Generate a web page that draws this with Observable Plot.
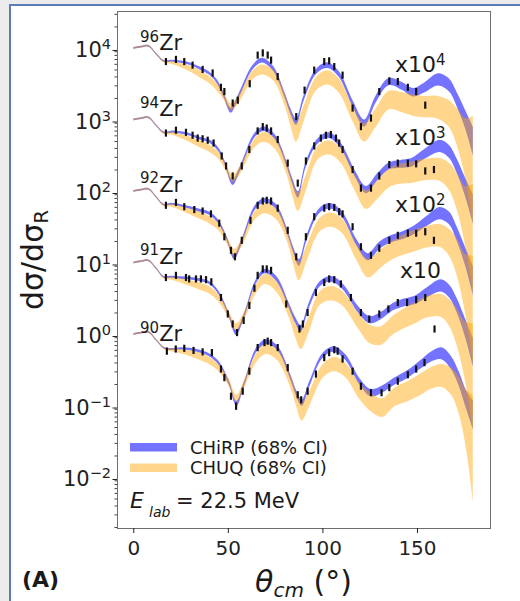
<!DOCTYPE html>
<html><head><meta charset="utf-8">
<script src="https://cdn.jsdelivr.net/npm/d3@7"></script>
<script src="https://cdn.jsdelivr.net/npm/@observablehq/plot@0.6"></script>
<style>
html,body{margin:0;padding:0;background:#ebebeb;width:520px;height:601px;overflow:hidden;font-family:"DejaVu Sans",sans-serif;}
#frame{position:absolute;left:9px;top:4px;width:620px;height:700px;background:#fff;border-left:2px solid #5a7cb8;border-top:2px solid #5a7cb8;}
#chart{position:absolute;left:0;top:0;}
</style></head><body><div id="frame"></div><div id="chart"></div>
<script>
// ---------------- data ----------------
const nuclei = ["90Zr", "91Zr", "92Zr", "94Zr", "96Zr"];
const offsets = [1, 10, 100, 1000, 10000];
const nucleusMass = ["90", "91", "92", "94", "96"];
const nucleusLabelShift = [-0.10, -0.02, -0.01, 0.046, -0.03];   // log10 offset of label baseline
const nucleusLabelTheta = 3.6;
const scaleBase = ["x10", "x10", "x10", "x10"];                    // for 91, 92, 94, 96
const scaleExp = ["", "2", "3", "4"];
const scaleLabelOffsets = [10, 100, 1000, 10000];
const scaleLabelTheta = [141, 138.4, 138.4, 138.4];
const scaleLabelShift = [-0.21, -0.294, -0.35, -0.336];

const xTicks = [0, 50, 100, 150];
const yTickValues = [1e-2, 1e-1, 1, 1e1, 1e2, 1e3, 1e4];
const yTickExp = ["−2", "−1", "0", "1", "2", "3", "4"];

// band knots (theta in degrees) per nucleus, log10(dσ/dσR) band centres
const theta90 = [0,4,8,12,16,20,25,30,35,40,45,50.5,54.5,58.5,65,70,76,83,86,89,93,100,106,112,119.5,125.5,131.5,138,145,152,157,163,168,172,176,179.5];
const blue90  = [0,0.02,0.03,-0.08,-0.19,-0.21,-0.20,-0.21,-0.24,-0.29,-0.40,-0.68,-0.97,-0.70,-0.22,-0.11,-0.19,-0.60,-0.82,-0.96,-0.70,-0.30,-0.21,-0.32,-0.66,-0.82,-0.77,-0.66,-0.56,-0.42,-0.32,-0.27,-0.40,-0.62,-0.92,-1.13];
const orange90= [0,0.02,0.03,-0.08,-0.20,-0.22,-0.24,-0.27,-0.31,-0.37,-0.47,-0.68,-0.90,-0.70,-0.33,-0.21,-0.29,-0.66,-0.90,-1.08,-0.90,-0.52,-0.42,-0.50,-0.80,-0.95,-1.03,-0.88,-0.80,-0.70,-0.62,-0.58,-0.66,-0.85,-1.20,-1.60];

const theta91 = [0,4,8,12,16,20,25,30,35,40,45,50.3,54.3,58.3,64.5,69.5,75.5,82.5,85.5,88.5,92.5,98.5,104.5,110.5,119,125,131,137,143,149,155,162.5,167,171,175.5,179.5];
const blue91  = [0,0.02,0.03,-0.08,-0.20,-0.20,-0.21,-0.22,-0.24,-0.28,-0.42,-0.72,-0.98,-0.76,-0.28,-0.12,-0.22,-0.62,-0.80,-0.92,-0.62,-0.30,-0.23,-0.33,-0.66,-0.80,-0.74,-0.62,-0.56,-0.52,-0.42,-0.32,-0.40,-0.60,-0.92,-1.25];
const orange91= [0,0.02,0.03,-0.08,-0.21,-0.22,-0.25,-0.29,-0.33,-0.38,-0.50,-0.72,-0.90,-0.76,-0.38,-0.23,-0.33,-0.70,-0.94,-1.08,-0.88,-0.50,-0.43,-0.50,-0.82,-1.00,-1.02,-0.88,-0.78,-0.70,-0.62,-0.60,-0.70,-0.90,-1.25,-1.60];

const theta92 = [0,4,8,12,16,20,25,30,35,40,45,49.3,53.3,57.3,64.5,69.5,75.5,81.5,84.5,87.5,91.5,98.5,104.5,110.5,118,124,130,136,142,148,155,162,167,171,175.5,179.5];
const blue92  = [0,0.02,0.03,-0.08,-0.19,-0.18,-0.20,-0.23,-0.27,-0.31,-0.43,-0.66,-0.92,-0.70,-0.22,-0.13,-0.22,-0.58,-0.82,-1.00,-0.66,-0.27,-0.21,-0.33,-0.72,-0.92,-0.76,-0.67,-0.62,-0.55,-0.42,-0.31,-0.38,-0.60,-0.92,-1.25];
const orange92= [0,0.02,0.03,-0.08,-0.20,-0.20,-0.24,-0.29,-0.34,-0.40,-0.50,-0.68,-0.86,-0.72,-0.33,-0.24,-0.32,-0.64,-0.92,-1.12,-0.88,-0.47,-0.40,-0.49,-0.86,-1.08,-0.96,-0.84,-0.76,-0.70,-0.64,-0.62,-0.72,-0.92,-1.30,-1.65];

const theta94 = [0,4,8,12,16,20,25,30,35,40,45,48.5,52.5,56.5,64,69,75,81,84,87,91,97.5,103.5,109.5,117,123,129,135,141,147,154,162,167,171,175.5,179.5];
const blue94  = [0,0.02,0.03,-0.08,-0.18,-0.17,-0.18,-0.21,-0.26,-0.30,-0.42,-0.62,-0.88,-0.68,-0.22,-0.13,-0.25,-0.62,-0.86,-1.05,-0.64,-0.30,-0.22,-0.36,-0.75,-0.98,-0.80,-0.65,-0.62,-0.60,-0.48,-0.37,-0.45,-0.65,-0.95,-1.25];
const orange94= [0,0.02,0.03,-0.08,-0.19,-0.19,-0.23,-0.28,-0.34,-0.40,-0.50,-0.65,-0.82,-0.70,-0.33,-0.24,-0.34,-0.68,-0.96,-1.15,-0.90,-0.46,-0.39,-0.50,-0.88,-1.12,-0.98,-0.82,-0.76,-0.74,-0.70,-0.70,-0.80,-1.00,-1.35,-1.65];

const theta96 = [0,4,8,12,16,20,25,30,35,40,44,47.5,51.5,55.5,63,68,74,80,83,86,90,96.5,102.5,108.5,116,122,128,135,142,148,154,161,167,171,175.5,179.5];
const blue96  = [0,0.02,0.03,-0.08,-0.18,-0.18,-0.19,-0.22,-0.28,-0.35,-0.46,-0.64,-0.87,-0.68,-0.27,-0.17,-0.29,-0.66,-0.88,-1.03,-0.70,-0.33,-0.24,-0.36,-0.78,-1.05,-0.72,-0.47,-0.53,-0.62,-0.55,-0.44,-0.52,-0.72,-1.00,-1.30];
const orange96= [0,0.02,0.03,-0.08,-0.19,-0.20,-0.24,-0.29,-0.36,-0.44,-0.54,-0.66,-0.82,-0.72,-0.38,-0.30,-0.38,-0.72,-0.98,-1.18,-0.92,-0.50,-0.41,-0.52,-0.92,-1.18,-0.98,-0.73,-0.76,-0.80,-0.82,-0.83,-0.92,-1.10,-1.40,-1.70];

// half widths (log10) of the 68% bands at each knot
const blueHalf   = [0.012,0.012,0.012,0.012,0.012,0.014,0.016,0.018,0.02,0.022,0.025,0.03,0.035,0.035,0.032,0.032,0.034,0.036,0.04,0.045,0.04,0.036,0.04,0.04,0.045,0.05,0.05,0.05,0.055,0.06,0.07,0.085,0.09,0.1,0.13,0.2];
const orangeHalf = [0.012,0.012,0.012,0.012,0.014,0.02,0.03,0.04,0.05,0.05,0.05,0.05,0.05,0.055,0.06,0.07,0.075,0.085,0.1,0.13,0.11,0.095,0.1,0.1,0.11,0.13,0.13,0.13,0.14,0.15,0.15,0.16,0.19,0.26,0.42,0.75];

// measured points [theta, log10(dσ/dσR)]
const obs90 = [[17.5,-0.24],[22.2,-0.21],[26.7,-0.20],[31.6,-0.23],[36.4,-0.25],[41.3,-0.26],[46.1,-0.49],[47.9,-0.61],[51.4,-0.87],[54.1,-1.01],[57.6,-0.80],[61.1,-0.52],[65.5,-0.19],[69.1,-0.12],[70.8,-0.10],[72.6,-0.12],[76.1,-0.19],[81.4,-0.47],[86.7,-0.85],[88.5,-0.92],[91.9,-0.80],[96.3,-0.56],[100.7,-0.33],[103.3,-0.26],[106,-0.22],[107.8,-0.24],[110.4,-0.35],[115.7,-0.52],[120.1,-0.73],[125.4,-0.82],[131,-0.82],[135.1,-0.75],[139.6,-0.66],[144.9,-0.57],[149.3,-0.49],[153.7,-0.40]];
const obs91 = [[17,-0.21],[22.3,-0.18],[27.6,-0.21],[29.3,-0.23],[32.9,-0.23],[35.5,-0.23],[38.2,-0.24],[41,-0.27],[46.1,-0.49],[49.7,-0.72],[52.3,-0.86],[54.6,-0.98],[58.1,-0.81],[61.1,-0.60],[63.8,-0.36],[65.5,-0.18],[68.2,-0.09],[70.3,-0.09],[72.6,-0.11],[80.6,-0.58],[87.6,-0.93],[89.4,-0.86],[91.9,-0.70],[96.3,-0.42],[100.7,-0.28],[103.3,-0.23],[106,-0.24],[109.5,-0.30],[114.8,-0.49],[120.1,-0.70],[124.5,-0.79],[129.8,-0.72],[134.6,-0.65],[139.6,-0.56],[144.5,-0.56],[149.3,-0.52],[154.1,-0.49],[159,-0.93]];
const obs92 = [[17,-0.20],[22.3,-0.16],[26.7,-0.22],[32,-0.26],[36.4,-0.28],[40.8,-0.32],[45.2,-0.45],[47.9,-0.64],[51.4,-0.83],[53.5,-0.92],[57.1,-0.69],[61.7,-0.41],[65.5,-0.20],[68.2,-0.14],[70.3,-0.13],[72.6,-0.14],[76.1,-0.24],[81.4,-0.55],[85.9,-0.92],[91,-0.64],[95.4,-0.36],[100.7,-0.24],[103.3,-0.22],[106,-0.23],[108.6,-0.29],[110.4,-0.32],[115.7,-0.50],[120.1,-0.78],[125.4,-0.90],[129.8,-0.80],[135.1,-0.69],[139.6,-0.62],[144.9,-0.59],[149.3,-0.59],[154.1,-0.57],[158.7,-0.69]];
const obs94 = [[17,-0.19],[22.3,-0.15],[27.6,-0.18],[31.1,-0.22],[33.8,-0.26],[36.4,-0.27],[39.1,-0.29],[42.2,-0.33],[46.5,-0.51],[48.8,-0.65],[52.3,-0.79],[57.1,-0.65],[61.1,-0.42],[65.5,-0.16],[68.2,-0.10],[70.3,-0.12],[72.6,-0.16],[76.1,-0.28],[81.4,-0.61],[86.7,-0.89],[91,-0.58],[95.4,-0.37],[98.9,-0.26],[101.6,-0.22],[104.2,-0.21],[106.9,-0.26],[108.6,-0.33],[110.4,-0.42],[115.7,-0.70],[120.1,-0.96],[125.4,-0.96],[129.8,-0.79],[135.1,-0.63],[139.6,-0.61],[144.9,-0.61],[149.3,-0.62],[154.1,-0.72],[158.7,-0.70]];
const obs96 = [[17,-0.19],[22.3,-0.16],[26.7,-0.19],[31.1,-0.24],[36.4,-0.30],[41.7,-0.35],[46.1,-0.55],[47.9,-0.61],[52.3,-0.77],[55,-0.73],[61.3,-0.50],[65.5,-0.10],[68.2,-0.07],[70.8,-0.10],[72.6,-0.17],[76.1,-0.40],[85.9,-0.96],[90.3,-0.59],[95.4,-0.31],[100.7,-0.19],[103.3,-0.18],[106,-0.26],[110.4,-0.38],[115.7,-0.84],[120.1,-1.10],[125.4,-0.98],[129.8,-0.61],[135.1,-0.46],[139.6,-0.47],[144.9,-0.55],[149.3,-0.61],[154.1,-0.80]];

const thetas = [theta90, theta91, theta92, theta94, theta96];
const blues = [blue90, blue91, blue92, blue94, blue96];
const oranges = [orange90, orange91, orange92, orange94, orange96];
const observations = [obs90, obs91, obs92, obs94, obs96];
const errHalf = 0.05;

// ---------------- build ----------------
function bandRows(th, centre, half, off) {
  return th.map((t, i) => ({t, lo: off * Math.pow(10, centre[i] - half[i]), hi: off * Math.pow(10, centre[i] + half[i])}));
}
const blueColor = "#0000ff", orangeColor = "#ffa500";
const marks = [];
nuclei.forEach((n, i) => marks.push(Plot.areaY(bandRows(thetas[i], blues[i], blueHalf, offsets[i]),
  {x: "t", y1: "lo", y2: "hi", fill: blueColor, fillOpacity: 0.55, curve: "catmull-rom"})));
nuclei.forEach((n, i) => marks.push(Plot.areaY(bandRows(thetas[i], oranges[i], orangeHalf, offsets[i]),
  {x: "t", y1: "lo", y2: "hi", fill: orangeColor, fillOpacity: 0.45, curve: "catmull-rom"})));

const pointRows = [];
observations.forEach((obs, i) => obs.forEach(([t, v]) => pointRows.push({
  t, lo: offsets[i] * Math.pow(10, v - errHalf), hi: offsets[i] * Math.pow(10, v + errHalf)})));
marks.push(Plot.ruleX(pointRows, {x: "t", y1: "lo", y2: "hi", stroke: "#111", strokeWidth: 2.2}));

// minor log ticks
const yDomain = [Math.pow(10, -2.713), Math.pow(10, 4.517)];
const yMinor = [];
for (let k = -3; k <= 4; k++) for (let m = 2; m <= 9; m++) { const v = m * Math.pow(10, k); if (v > yDomain[0] && v < yDomain[1]) yMinor.push(v); }

marks.push(Plot.frame({stroke: "#6e6e6e", strokeWidth: 1}));
marks.push(Plot.axisY({ticks: yMinor, tickSize: 2.5, tickFormat: () => "", label: null, color: "#444"}));
marks.push(Plot.axisY({ticks: yTickValues, tickSize: 4.5, tickPadding: 2, label: null, fontSize: 21, dy: 2, color: "#222",
  tickFormat: d => "10^" + yTickExp[yTickValues.indexOf(d)]}));
marks.push(Plot.axisX({ticks: xTicks, tickSize: 5, tickPadding: 7, label: null, fontSize: 20, color: "#222", tickFormat: d => String(d)}));

const plot = Plot.plot({
  width: 520, height: 601,
  marginLeft: 117, marginRight: 30, marginTop: 11, marginBottom: 73,
  style: {background: "transparent", fontFamily: "DejaVu Sans", overflow: "visible"},
  x: {domain: [-8.6, 188.6], label: null},
  y: {type: "log", domain: yDomain, label: null},
  marks
});
document.getElementById("chart").appendChild(plot);

// ---------------- labels, legend ----------------
const svg = d3.select(plot);
const xs = plot.scale("x"), ys = plot.scale("y");
const ink = "#1a1a1a";

// y tick labels: 10 with a raised exponent
svg.selectAll("text").each(function () {
  const s = this.textContent;
  if (s.startsWith("10^")) {
    const e = s.slice(3);
    const t = d3.select(this);
    t.text("");
    t.append("tspan").text("10");
    t.append("tspan").attr("font-size", 14.5).attr("dy", -8).text(e);
  }
});

// nucleus labels
nuclei.forEach((n, i) => {
  const t = svg.append("text").attr("text-anchor", "start").attr("font-family", "DejaVu Sans").attr("fill", ink)
    .attr("x", xs.apply(nucleusLabelTheta)).attr("y", ys.apply(offsets[i] * Math.pow(10, nucleusLabelShift[i])));
  t.append("tspan").attr("font-size", 15).attr("dy", -8.5).text(nucleusMass[i]);
  t.append("tspan").attr("font-size", 21).attr("dy", 8.5).text("Zr");
});
// scale factor labels
scaleBase.forEach((b, i) => {
  const t = svg.append("text").attr("text-anchor", "start").attr("font-family", "DejaVu Sans").attr("fill", ink)
    .attr("x", xs.apply(scaleLabelTheta[i])).attr("y", ys.apply(scaleLabelOffsets[i] * Math.pow(10, scaleLabelShift[i])));
  t.append("tspan").attr("font-size", 22).text(b);
  if (scaleExp[i]) t.append("tspan").attr("font-size", 15).attr("dy", -7).text(scaleExp[i]);
});

const yl = svg.append("text").attr("transform", "translate(43,260) rotate(-90)").attr("text-anchor", "middle")
  .attr("font-family", "DejaVu Sans").attr("font-size", 30).attr("fill", ink);
yl.append("tspan").text("dσ/dσ");
yl.append("tspan").attr("font-size", 20).attr("dy", 5).text("R");

const xl = svg.append("text").attr("x", 303.5).attr("y", 592).attr("text-anchor", "middle")
  .attr("font-family", "DejaVu Sans").attr("font-size", 30).attr("fill", ink);
xl.append("tspan").attr("font-style", "italic").text("θ");
xl.append("tspan").attr("font-style", "italic").attr("font-size", 20).attr("dy", 5).text("cm");
xl.append("tspan").attr("dy", -5).text(" (°)");

svg.append("text").attr("x", 22).attr("y", 587).attr("text-anchor", "start").attr("font-family", "DejaVu Sans")
  .attr("font-weight", "bold").attr("font-size", 22).attr("fill", ink).text("(A)");

const legendItems = [
  {label: "CHiRP (68% CI)", color: blueColor, op: 0.55, y: 443},
  {label: "CHUQ (68% CI)", color: orangeColor, op: 0.45, y: 463.5}
];
legendItems.forEach(it => {
  svg.append("rect").attr("x", 130).attr("y", it.y).attr("width", 47).attr("height", 8.5)
    .attr("fill", it.color).attr("fill-opacity", it.op);
  svg.append("text").attr("x", 190).attr("y", it.y + 10.5).attr("text-anchor", "start").attr("font-family", "DejaVu Sans")
    .attr("font-size", 18).attr("fill", ink).text(it.label);
});
const el = svg.append("text").attr("text-anchor", "start").attr("font-family", "DejaVu Sans").attr("fill", ink);
el.append("tspan").attr("x", 130).attr("y", 507.5).attr("font-size", 22).attr("font-style", "italic").text("E");
el.append("tspan").attr("x", 149).attr("y", 517).attr("font-size", 14).attr("font-style", "italic").text("lab");
el.append("tspan").attr("x", 176).attr("y", 507.5).attr("font-size", 21).text("= 22.5 MeV");
</script></body></html>
